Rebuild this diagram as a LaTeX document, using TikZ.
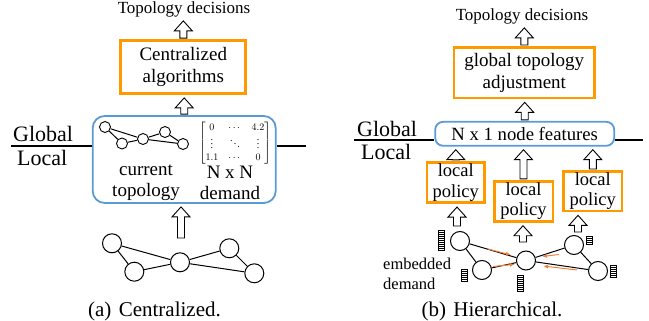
\documentclass[tikz,border=0pt]{standalone}
\usepackage{amsmath}
\usepackage{fontspec}
\setmainfont{Liberation Serif}
\usetikzlibrary{calc,arrows.meta}
\definecolor{boxorange}{HTML}{FF9900}
\definecolor{boxblue}{HTML}{5B9BD5}
\definecolor{msgorange}{HTML}{F07F3C}
\tikzstyle{orangebox} =[
    draw=boxorange,
    line width=2.8pt,
    rectangle,
    align=center,
    inner sep=0pt,
    font=\fontsize{19}{22}\selectfont
    ]
\tikzstyle{bluebox} =[
    draw=boxblue,
    line width=1.8pt,
    rounded corners=12pt,
    rectangle,
    inner sep=0pt
    ]
\tikzstyle{host} =[draw, circle, line width=1pt, minimum size=19pt, inner sep=0pt]
\tikzstyle{minihost} =[host, minimum size=11pt, line width=0.9pt]
\tikzstyle{link} =[line width=1pt]
\tikzstyle{layer} =[line width=2pt]
\tikzstyle{hollow} =[draw, fill=white, line width=0.9pt]
\tikzstyle{msg} =[draw=msgorange, line width=1pt, -{Latex[length=5pt,width=4pt]}]
\tikzstyle{bar} =[line width=0.6pt]
\tikzstyle{dectext} =[anchor=base, inner sep=0pt, font=\fontsize{17}{20}\selectfont]
\tikzstyle{layertext} =[anchor=base west, inner sep=0pt, font=\fontsize{22}{24}\selectfont]
\tikzstyle{boxtext} =[align=center, inner sep=0pt, font=\fontsize{19}{21}\selectfont]
\tikzstyle{captext} =[anchor=base, inner sep=0pt, font=\fontsize{21}{24}\selectfont]
% hollow block arrow, upwards from #1 to #2
\newcommand{\hollowup}[2]{%
  \draw[hollow] let \p1=(#1), \p2=(#2) in
    (\x1-3.5pt,\y1+1pt) -- (\x1-3.5pt,\y2-13pt) -- (\x1-9pt,\y2-13pt) --
    (\x1,\y2-3pt) -- (\x1+9pt,\y2-13pt) -- (\x1+3.5pt,\y2-13pt) --
    (\x1+3.5pt,\y1+1pt) -- cycle;}
% striped demand bar: x, top, height
\newcommand{\demandbar}[3]{%
  \draw[bar, fill=white] (#1,#2) rectangle ++(6,#3);
  \foreach \s in {2,4,...,#3} {\draw[bar] (#1,#2+\s) -- ++(6,0);}}

\begin{document}
\begin{tikzpicture}[x=1pt,y=-1pt]
\useasboundingbox (0,0) rectangle (649,321);

% (a) centralized
\node[dectext] (deca) at (184,14) {Topology decisions};
\node[orangebox, minimum width=125pt, minimum height=53pt] (alg) at (183.3,67) {Centralized\\algorithms};
\node[bluebox, minimum width=183pt, minimum height=87pt] (feata) at (184.2,159.5) {};
\coordinate (gla) at (11,145.7);
\coordinate (gra) at (306,145.7);
\draw[layer] (gla) -- (gla -| feata.west);
\draw[layer] (feata.east |- gra) -- (gra);
\node[layertext] (globa) at (13,142) {Global};
\node[layertext] (loca) at (17,165) {Local};

\node[minihost] (s1) at (105,127) {};
\node[minihost] (s2) at (122,143.5) {};
\node[minihost] (s3) at (143,139) {};
\node[minihost] (s4) at (165,132) {};
\node[minihost] (s5) at (183,144) {};
\foreach \u/\v in {s1/s2,s1/s3,s2/s3,s3/s4,s3/s5,s4/s5}
  \draw[link] (\u) -- (\v);
\node[inner sep=0pt, font=\fontsize{10}{12}\selectfont] (dmat) at (235,143)
  {$\begin{bmatrix} 0 & \cdots & 4.2\\ \vdots & \ddots & \vdots\\ 1.1 & \cdots & 0 \end{bmatrix}$};
\node[boxtext] (curtopo) at (146,183) {current\\topology};
\node[boxtext] (nxn) at (230,183) {N x N\\demand};

\node[host] (a1) at (112,243.3) {};
\node[host] (a2) at (134.3,271.7) {};
\node[host] (a3) at (180,262.3) {};
\node[host] (a4) at (229.3,248.3) {};
\node[host] (a5) at (254.3,273.3) {};
\foreach \u/\v in {a1/a2,a1/a3,a2/a3,a3/a4,a3/a5,a4/a5}
  \draw[link] (\u) -- (\v);
\coordinate (ina) at (181,239);

\hollowup{alg.north}{deca.south}
\hollowup{feata.north}{alg.south}
\hollowup{ina}{feata.south}

\node[captext] (capa) at (154.5,316) {(a)\hspace{0.35em}Centralized.};

% (b) hierarchical
\node[dectext] (decb) at (522,21) {Topology decisions};
\node[orangebox, minimum width=140.5pt, minimum height=50.5pt] (adj) at (524.3,72.7) {global topology\\adjustment};
\node[bluebox, rounded corners=8pt, minimum width=179pt, minimum height=24pt,
  font=\fontsize{18.7}{21}\selectfont] (featb) at (524.7,133.8) {N x 1 node features};
\coordinate (glb) at (354,140);
\coordinate (grb) at (643,140);
\draw[layer] (glb) -- (glb -| featb.west);
\draw[layer] (featb.east |- grb) -- (grb);
\node[layertext] (globb) at (357,137) {Global};
\node[layertext] (locb) at (361,160) {Local};

\node[orangebox, minimum width=57.5pt, minimum height=40.3pt, font=\fontsize{18.5}{20.5}\selectfont] (pol1) at (455.8,182.5) {local\\policy};
\node[orangebox, minimum width=58.8pt, minimum height=40pt, font=\fontsize{18.5}{20.5}\selectfont] (pol2) at (523.5,201.3) {local\\policy};
\node[orangebox, minimum width=58.2pt, minimum height=39.5pt, font=\fontsize{18.5}{20.5}\selectfont] (pol3) at (592.8,191.2) {local\\policy};

\node[host] (b1) at (460,241) {};
\node[host] (b2) at (482,270) {};
\node[host] (b3) at (526,260.5) {};
\node[host] (b4) at (574,245) {};
\node[host] (b5) at (598,271) {};
\foreach \u/\v in {b1/b2,b1/b3,b2/b3,b3/b4,b3/b5,b4/b5}
  \draw[link] (\u) -- (\v);
\coordinate (in1) at (457,227);
\coordinate (in2) at (523,243);
\coordinate (in3) at (578,233);

\demandbar{438}{230}{20}
\demandbar{461}{269}{12}
\demandbar{517}{275}{16}
\demandbar{586}{236}{8}
\demandbar{610}{265}{12}

\foreach \p/\q in {{488,249}/{511,255},{493,266.5}/{515,264.3},{559,254.5}/{542,256.5},{577,270}/{543,266}}
  \draw[msg] (\p) -- (\q);

\node[align=left, anchor=west, inner sep=0pt, font=\fontsize{16.5}{20}\selectfont] (embd) at (383,274) {embedded\\demand};

\hollowup{adj.north}{decb.south}
\hollowup{featb.north}{adj.south}
\hollowup{pol1.north}{featb.south}
\hollowup{pol2.north}{featb.south}
\hollowup{pol3.north}{featb.south}
\hollowup{in1}{pol1.south}
\hollowup{in2}{pol2.south}
\hollowup{in3}{pol3.south}

\node[captext] (capb) at (492,316) {(b)\hspace{0.35em}Hierarchical.};
\end{tikzpicture}
\end{document}
